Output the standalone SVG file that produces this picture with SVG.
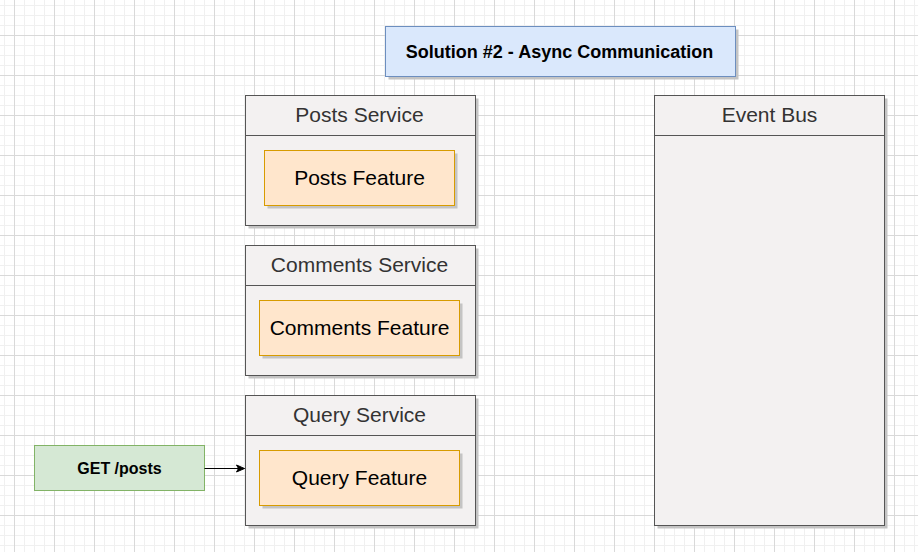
<svg xmlns="http://www.w3.org/2000/svg" width="918" height="552" viewBox="0 0 918 552">
  <defs>
    <pattern id="minor" x="4" y="5" width="10" height="10" patternUnits="userSpaceOnUse">
      <path d="M0 0.5H10M0.5 0V10" fill="none" stroke="#f0f0f0" stroke-width="1"/>
    </pattern>
    <pattern id="major" x="14" y="35" width="40" height="40" patternUnits="userSpaceOnUse">
      <path d="M0 0.5H40M0.5 0V40" fill="none" stroke="#d9d9d9" stroke-width="1"/>
    </pattern>
    <marker id="arrow" markerWidth="10" markerHeight="10" refX="9" refY="5" orient="auto" markerUnits="userSpaceOnUse">
      <path d="M1 1.5L9 5L1 8.5L3 5Z" fill="#000" stroke="#000" stroke-width="1"/>
    </marker>
  </defs>
  <style>
    .shadow { fill: #c4c4c4; stroke: none; }
    .lane { fill: #f3f1f1; stroke: #555555; stroke-width: 1; }
    .feature { fill: #ffe6cc; stroke: #d79b00; stroke-width: 1; }
    .title { fill: #dae8fc; stroke: #6c8ebf; stroke-width: 1; }
    .request { fill: #d5e8d4; stroke: #82b366; stroke-width: 1; }
    text { font-family: "Liberation Sans", Arial, Helvetica, sans-serif; text-anchor: middle; }
    .head { font-size: 21px; fill: #333333; }
    .label { font-size: 21px; fill: #000000; }
    .bold { font-weight: bold; fill: #000000; }
  </style>

  <!-- background grid -->
  <rect width="918" height="552" fill="#ffffff"/>
  <rect width="918" height="552" fill="url(#minor)"/>
  <rect width="918" height="552" fill="url(#major)"/>

  <!-- title -->
  <g id="title">
    <rect class="shadow" x="388.5" y="29.5" width="350" height="50"/>
    <rect class="title" x="385.5" y="26.5" width="350" height="50"/>
    <text class="bold" x="559.5" y="57.5" font-size="18">Solution #2 - Async Communication</text>
  </g>

  <!-- posts service -->
  <g id="posts-service">
    <rect class="shadow" x="248.5" y="98.5" width="230" height="130"/>
    <rect class="lane" x="245.5" y="95.5" width="230" height="130"/>
    <line x1="245.5" y1="135.5" x2="475.5" y2="135.5" stroke="#555555"/>
    <text class="head" x="359.5" y="122">Posts Service</text>
  </g>
  <g id="posts-feature">
    <rect class="shadow" x="267.5" y="153.5" width="190" height="55"/>
    <rect class="feature" x="264.5" y="150.5" width="190" height="55"/>
    <text class="label" x="359.5" y="185">Posts Feature</text>
  </g>

  <!-- comments service -->
  <g id="comments-service">
    <rect class="shadow" x="248.5" y="248.5" width="230" height="130"/>
    <rect class="lane" x="245.5" y="245.5" width="230" height="130"/>
    <line x1="245.5" y1="285.5" x2="475.5" y2="285.5" stroke="#555555"/>
    <text class="head" x="359.5" y="272">Comments Service</text>
  </g>
  <g id="comments-feature">
    <rect class="shadow" x="262.5" y="303.5" width="200" height="55"/>
    <rect class="feature" x="259.5" y="300.5" width="200" height="55"/>
    <text class="label" x="359.5" y="335">Comments Feature</text>
  </g>

  <!-- query service -->
  <g id="query-service">
    <rect class="shadow" x="248.5" y="398.5" width="230" height="130"/>
    <rect class="lane" x="245.5" y="395.5" width="230" height="130"/>
    <line x1="245.5" y1="435.5" x2="475.5" y2="435.5" stroke="#555555"/>
    <text class="head" x="359.5" y="422">Query Service</text>
  </g>
  <g id="query-feature">
    <rect class="shadow" x="262.5" y="453.5" width="200" height="55"/>
    <rect class="feature" x="259.5" y="450.5" width="200" height="55"/>
    <text class="label" x="359.5" y="485">Query Feature</text>
  </g>

  <!-- event bus -->
  <g id="event-bus">
    <rect class="shadow" x="657.5" y="98.5" width="230" height="430"/>
    <rect class="lane" x="654.5" y="95.5" width="230" height="430"/>
    <line x1="654.5" y1="135.5" x2="884.5" y2="135.5" stroke="#555555"/>
    <text class="head" x="769.5" y="122">Event Bus</text>
  </g>

  <!-- incoming request -->
  <g id="get-posts">
    <rect class="request" x="34.5" y="445.5" width="170" height="45"/>
    <text class="bold" x="119.5" y="473.5" font-size="16">GET /posts</text>
  </g>

  <!-- connectors -->
  <g id="connectors">
    <path d="M204.5 468.5H244.5" fill="none" stroke="#000000" stroke-width="1" marker-end="url(#arrow)"/>
  </g>
</svg>
